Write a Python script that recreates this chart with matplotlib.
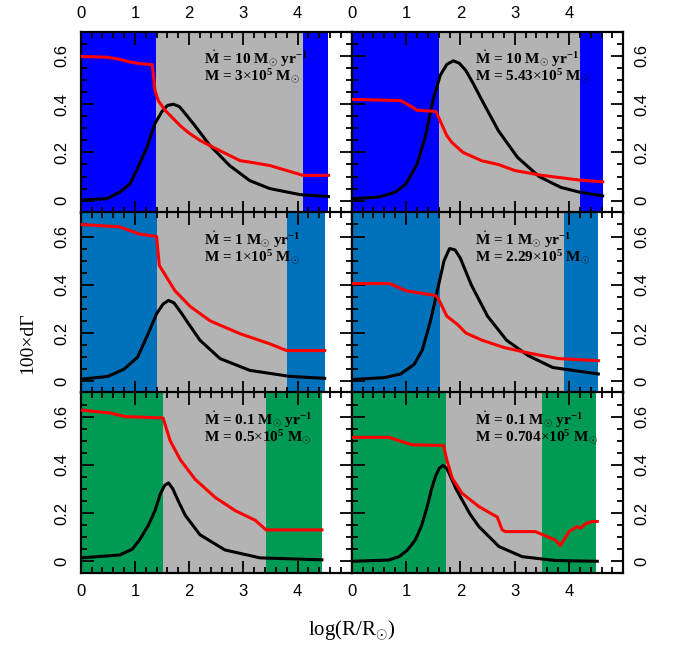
import numpy as np
import matplotlib
matplotlib.use("Agg")
from matplotlib import pyplot as plt
from matplotlib.ticker import MultipleLocator, FixedLocator

plt.rcParams['mathtext.fontset'] = 'custom'
plt.rcParams['mathtext.rm'] = 'Liberation Serif'
plt.rcParams['mathtext.it'] = 'Liberation Serif:italic'
plt.rcParams['mathtext.bf'] = 'Liberation Serif:bold'

# ---- data ----
# top left: Mdot = 10, M = 3e5
tl_bx = [0.0, 0.48, 0.72, 0.91, 1.03, 1.22, 1.37, 1.50, 1.60, 1.71, 1.82, 1.95, 2.11, 2.38, 2.75, 3.12, 3.49, 4.05, 4.57]
tl_by = [0.003, 0.008, 0.035, 0.07, 0.125, 0.22, 0.32, 0.37, 0.395, 0.40, 0.39, 0.355, 0.31, 0.23, 0.145, 0.083, 0.05, 0.025, 0.017]
tl_rx = [0.0, 0.48, 0.72, 0.91, 1.10, 1.32, 1.37, 1.43, 1.56, 1.84, 2.0, 2.2, 2.5, 2.94, 3.2, 3.5, 4.1, 4.57]
tl_ry = [0.598, 0.595, 0.586, 0.575, 0.568, 0.564, 0.457, 0.415, 0.374, 0.31, 0.28, 0.25, 0.215, 0.166, 0.157, 0.145, 0.105, 0.105]

# top right: Mdot = 10, M = 5.43e5
tr_bx = [0.0, 0.5, 0.8, 1.0, 1.2, 1.35, 1.5, 1.63, 1.75, 1.87, 1.98, 2.1, 2.25, 2.4, 2.7, 3.05, 3.45, 3.85, 4.2, 4.62]
tr_by = [0.008, 0.015, 0.035, 0.07, 0.15, 0.26, 0.42, 0.52, 0.565, 0.58, 0.57, 0.54, 0.48, 0.415, 0.29, 0.18, 0.10, 0.055, 0.035, 0.02]
tr_rx = [0.0, 0.9, 1.1, 1.2, 1.55, 1.63, 1.75, 1.85, 2.05, 2.4, 2.7, 3.0, 3.5, 4.21, 4.62]
tr_ry = [0.42, 0.415, 0.39, 0.375, 0.37, 0.33, 0.27, 0.24, 0.20, 0.165, 0.15, 0.125, 0.105, 0.085, 0.078]

# middle left: Mdot = 1, M = 1e5
ml_bx = [0.0, 0.5, 0.8, 1.05, 1.25, 1.40, 1.52, 1.62, 1.72, 1.85, 2.0, 2.2, 2.57, 3.12, 3.86, 4.50]
ml_by = [0.008, 0.02, 0.05, 0.10, 0.20, 0.28, 0.32, 0.335, 0.325, 0.285, 0.235, 0.17, 0.094, 0.045, 0.02, 0.012]
ml_rx = [0.0, 0.72, 1.09, 1.40, 1.45, 1.74, 2.02, 2.39, 2.94, 3.49, 3.80, 4.50]
ml_ry = [0.65, 0.64, 0.61, 0.60, 0.48, 0.375, 0.31, 0.25, 0.197, 0.155, 0.127, 0.127]

# middle right: Mdot = 1, M = 2.29e5
mr_bx = [0.0, 0.6, 0.9, 1.15, 1.3, 1.45, 1.6, 1.7, 1.8, 1.9, 2.0, 2.2, 2.5, 2.85, 3.25, 3.7, 4.54]
mr_by = [0.007, 0.015, 0.03, 0.07, 0.13, 0.25, 0.40, 0.50, 0.55, 0.545, 0.51, 0.40, 0.27, 0.17, 0.106, 0.057, 0.03]
mr_rx = [0.0, 0.7, 1.0, 1.55, 1.6, 1.75, 1.95, 2.1, 2.4, 2.8, 3.3, 3.8, 4.54]
mr_ry = [0.405, 0.405, 0.375, 0.355, 0.34, 0.27, 0.235, 0.20, 0.17, 0.14, 0.115, 0.094, 0.085]

# bottom left: Mdot = 0.1, M = 0.5e5
bl_bx = [0.0, 0.72, 0.95, 1.09, 1.25, 1.37, 1.47, 1.55, 1.62, 1.70, 1.80, 1.93, 2.20, 2.66, 3.31, 4.45]
bl_by = [0.014, 0.026, 0.05, 0.09, 0.15, 0.21, 0.28, 0.315, 0.325, 0.30, 0.25, 0.19, 0.11, 0.047, 0.014, 0.006]
bl_rx = [0.0, 0.54, 0.82, 1.52, 1.65, 1.84, 2.11, 2.48, 2.85, 3.22, 3.42, 4.45]
bl_ry = [0.627, 0.615, 0.60, 0.594, 0.50, 0.42, 0.34, 0.265, 0.21, 0.17, 0.13, 0.13]

# bottom right: Mdot = 0.1, M = 0.704e5
br_bx = [0.0, 0.68, 0.87, 1.02, 1.17, 1.29, 1.39, 1.47, 1.54, 1.61, 1.68, 1.75, 1.82, 1.92, 2.03,
         2.18, 2.34, 2.71, 3.14, 3.75, 4.52]
br_by = [0.0, 0.005, 0.019, 0.045, 0.088, 0.15, 0.227, 0.30, 0.351, 0.385, 0.397, 0.385, 0.351,
         0.30, 0.255, 0.195, 0.144, 0.061, 0.019, 0.003, 0.0]
br_rx = [0.0, 0.68, 1.11, 1.69, 1.75, 1.85, 2.03, 2.34, 2.68, 2.77, 2.83, 3.38, 3.60, 3.75, 3.84,
         4.00, 4.15, 4.21, 4.30, 4.43, 4.52]
br_ry = [0.514, 0.514, 0.483, 0.48, 0.421, 0.345, 0.282, 0.227, 0.183, 0.13, 0.123, 0.123, 0.102,
         0.088, 0.065, 0.123, 0.144, 0.137, 0.155, 0.165, 0.165]

# shaded zones: (gray start, gray end, data end)
zones = [(1.38, 4.10, 4.57), (1.60, 4.21, 4.62),
         (1.41, 3.80, 4.50), (1.63, 3.90, 4.54),
         (1.52, 3.42, 4.45), (1.73, 3.50, 4.50)]
row_colors = ["#0000FF", "#0072BC", "#009A55"]

mdot_labels = ["10", "10", "1", "1", "0.1", "0.1"]
mass_labels = ["3", "5.43", "1", "2.29", "0.5", "0.704"]
x_ticks = [0, 1, 2, 3, 4]

black = [(tl_bx, tl_by), (tr_bx, tr_by), (ml_bx, ml_by), (mr_bx, mr_by), (bl_bx, bl_by), (br_bx, br_by)]
red = [(tl_rx, tl_ry), (tr_rx, tr_ry), (ml_rx, ml_ry), (mr_rx, mr_ry), (bl_rx, bl_ry), (br_rx, br_ry)]

fig = plt.figure(figsize=(6.76, 6.46), dpi=100)

lefts = [0.1194, 0.5203]
widths = [0.4009, 0.4018]
bottoms = [0.6707, 0.3912, 0.1125]
height = 0.2800

tickfont = 'Liberation Sans'

for i in range(6):
    row, col = divmod(i, 2)
    ax = fig.add_axes([lefts[col], bottoms[row], widths[col], height])
    g0, g1, end = zones[i]
    c = row_colors[row]
    ax.axvspan(0, g0, color=c, lw=0)
    ax.axvspan(g0, g1, color="#B3B3B3", lw=0)
    ax.axvspan(g1, end, color=c, lw=0)

    ax.plot(*black[i], color='black', lw=2.2, zorder=3, solid_joinstyle='round')
    ax.plot(*red[i], color='#FF0000', lw=2.2, zorder=3, solid_joinstyle='round')

    ax.set_xlim(0, 5)
    ax.set_ylim(-0.05, 0.7)
    ax.xaxis.set_major_locator(FixedLocator(x_ticks))
    ax.xaxis.set_minor_locator(MultipleLocator(0.2))
    ax.yaxis.set_major_locator(MultipleLocator(0.2))
    ax.yaxis.set_minor_locator(MultipleLocator(0.05))
    ax.tick_params(which='both', direction='in', top=True, bottom=True, left=True, right=True,
                   width=1.3, labelsize=12, pad=8,
                   labeltop=(row == 0), labelbottom=(row == 2),
                   labelleft=(col == 0), labelright=(col == 1))
    ax.tick_params(which='major', length=9)
    ax.tick_params(which='minor', length=4.5)
    ax.tick_params(axis='y', labelrotation=90)
    ax.xaxis.set_major_formatter(plt.FuncFormatter(lambda v, p: "%g" % v))
    ax.yaxis.set_major_formatter(plt.FuncFormatter(lambda v, p: "%g" % v))
    for lbl in ax.get_xticklabels() + ax.get_yticklabels():
        lbl.set_family(tickfont)
    for lbl in ax.get_yticklabels():
        lbl.set_va('center')
    for s in ax.spines.values():
        s.set_linewidth(1.6)

    ax.text(2.27, 0.59, r'$\dot{\mathbf{M}}$ = ' + mdot_labels[i] + r' M$_{\odot}$ yr$^{\mathbf{-1}}$',
            family='Liberation Serif', fontweight='bold', fontsize=11, va='center', zorder=4)
    ax.text(2.27, 0.515, 'M = ' + mass_labels[i] + r'$\times$10$^{\mathbf{5}}$ M$_{\odot}$',
            family='Liberation Serif', fontweight='bold', fontsize=11, va='center', zorder=4)

fig.text(0.041, 0.468, '100×dΓ', rotation=90, family='Liberation Serif', fontsize=14,
         ha='center', va='center')
fig.text(0.52, 0.025, r'log(R/R$_{\odot}$)', family='Liberation Serif', fontsize=15,
         ha='center', va='center')

plt.savefig("out.png", dpi=100)
